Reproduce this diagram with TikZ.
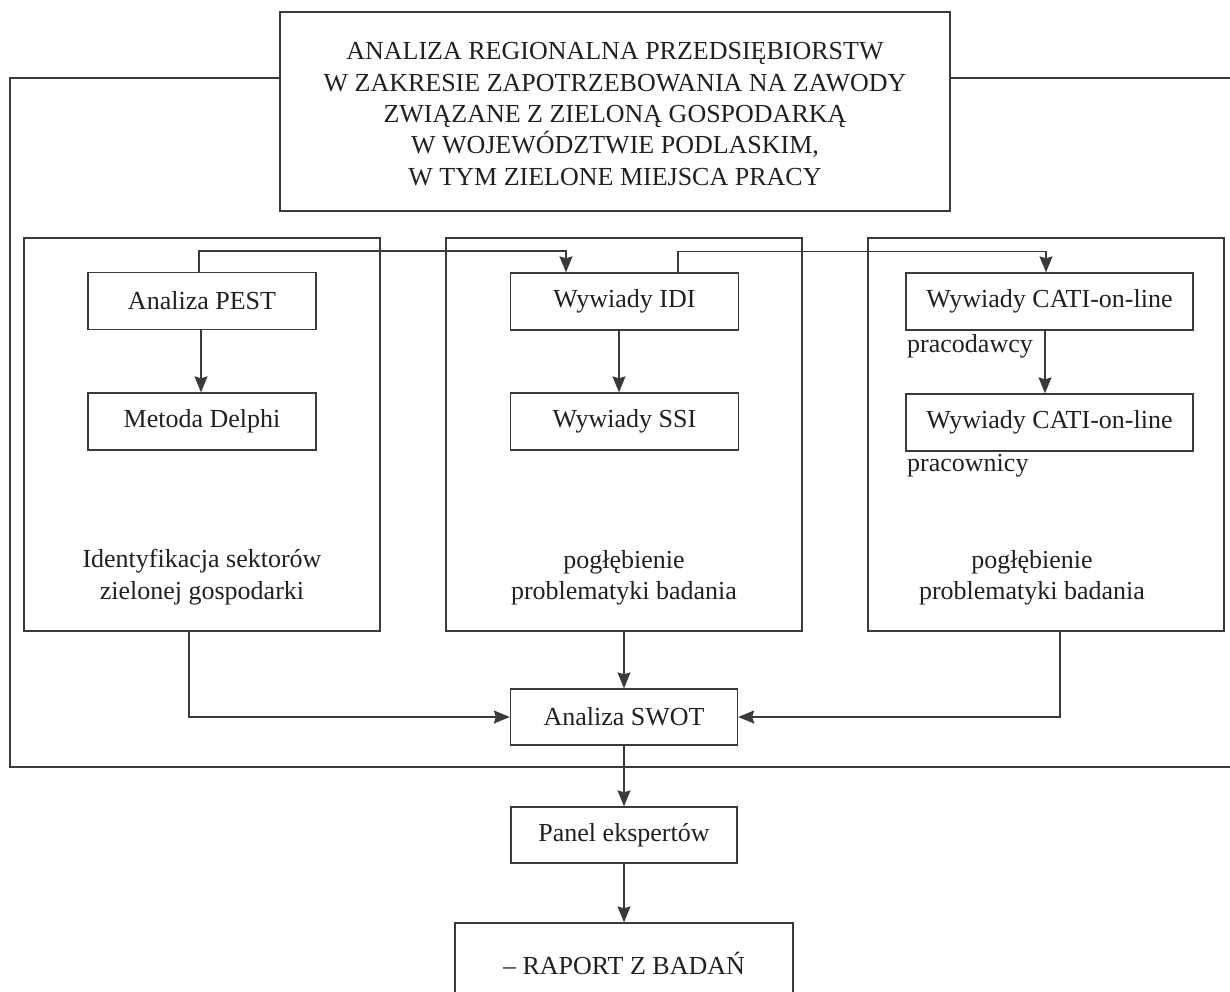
\documentclass[tikz,border=0pt]{standalone}
\usepackage{fontspec}
\setmainfont{Liberation Serif}
\usetikzlibrary{arrows.meta,calc}
\definecolor{linec}{HTML}{3A3A3A}
\definecolor{textc}{HTML}{231F20}
\newcommand\diagfs{\fontsize{26}{31.3}\selectfont}
\begin{document}
\begin{tikzpicture}[x=1pt,y=-1pt,
  box/.style={draw=linec, line width=1.3pt, minimum width=228pt, minimum height=57pt,
    inner sep=0pt, font=\diagfs, text=textc, align=center},
  panel/.style={draw=linec, line width=1.3pt, minimum width=356pt, minimum height=393pt, inner sep=0pt},
  frame/.style={draw=linec, line width=1.3pt},
  arr/.style={draw=linec, line width=1.3pt, -{Stealth[length=16pt,width=13pt,inset=2pt]}},
  lbl/.style={font=\diagfs, text=textc, align=center, inner sep=0pt}]
\useasboundingbox (0,0) rectangle (1230,992);
\clip (0,0) rectangle (1230,992);

% top box
\node[box, minimum width=670pt, minimum height=199pt] (top) at (615,111.5) {};
\node[lbl] (toptext) at (615,114)
  {ANALIZA REGIONALNA PRZEDSIĘBIORSTW\\W ZAKRESIE ZAPOTRZEBOWANIA NA ZAWODY\\ZWIĄZANE Z ZIELONĄ GOSPODARKĄ\\W WOJEWÓDZTWIE PODLASKIM,\\W TYM ZIELONE MIEJSCA PRACY};

% outer frame
\draw[frame] (top.west |- 0,78) -- (10,78) -- (10,767) -- (1240,767);
\draw[frame] (top.east |- 0,78) -- (1240,78);

% panels
\node[panel] (pl) at (202,434.5) {};
\node[panel] (pm) at (624,434.5) {};
\node[panel] (pr) at (1046,434.5) {};

% panel texts
\node[lbl] (tl) at (202,577) {Identyfikacja sektorów\\zielonej gospodarki};
\node[lbl] (tm) at (624,578) {pogłębienie\\problematyki badania};
\node[lbl] (tr) at (1032,578) {pogłębienie\\problematyki badania};

% inner boxes
\node[box] (pest) at (202,301) {Analiza PEST};
\node[box] (delphi) at (202,421.5) {Metoda Delphi};
\node[box] (idi) at (624.5,301.5) {Wywiady IDI};
\node[box] (ssi) at (624.5,421.5) {Wywiady SSI};
\node[box, minimum width=287pt] (cati1) at (1049.5,301.5) {Wywiady CATI-on-line};
\node[box, minimum width=287pt] (cati2) at (1049.5,422.5) {Wywiady CATI-on-line};
\node[lbl, anchor=west] (lab1) at (907,346) {pracodawcy};
\node[lbl, anchor=west] (lab2) at (907,466) {pracownicy};

\node[box, minimum width=227pt, minimum height=56pt] (swot) at (624,717) {Analiza SWOT};
\node[box, minimum width=226pt, minimum height=56pt] (panel) at (624,835) {Panel ekspertów};
\node[box, minimum width=338pt, minimum height=80pt] (raport) at (624,963) {– RAPORT Z BADAŃ};

% connectors
\draw[arr] ([xshift=-3pt]pest.north) -- ++(0,-21) -| ([xshift=-58.5pt]idi.north);
\draw[arr] ([xshift=53.5pt]idi.north) -- ++(0,-21) -| ([xshift=-3.5pt]cati1.north);
\draw[arr] ([xshift=-1pt]pest.south) -- ([xshift=-1pt]delphi.north);
\draw[arr] ([xshift=-5.5pt]idi.south) -- ([xshift=-5.5pt]ssi.north);
\draw[arr] ([xshift=-4.5pt]cati1.south) -- ([xshift=-4.5pt]cati2.north);

\draw[arr] ([xshift=-13pt]pl.south) |- (swot.west);
\draw[arr] (pm.south) -- (pm.south |- swot.north);
\draw[arr] ([xshift=14pt]pr.south) |- (swot.east);
\draw[arr] (swot.south) -- (swot.south |- panel.north);
\draw[arr] (panel.south) -- (panel.south |- raport.north);
\end{tikzpicture}
\end{document}
